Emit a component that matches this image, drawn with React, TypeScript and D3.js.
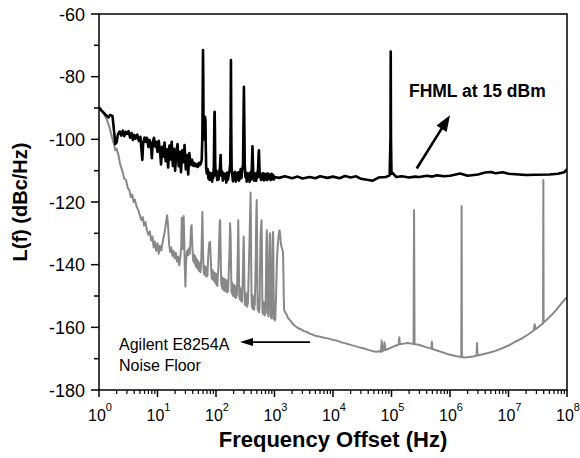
import React from "react";
import * as d3 from "d3";

// ---- Data ----
// FHML at 15 dBm : [offset frequency (Hz), L(f) (dBc/Hz)]
const fhml: [number, number][] = [
  [1, -89.8], [1.1, -90.8], [1.2, -91.5], [1.35, -92.5], [1.45, -93], [1.55, -92.2], [1.7, -92.5],
  [1.8, -97], [1.9, -101.5], [2.0, -101], [2.1, -98.5], [2.25, -97.5], [2.4, -98.8], [2.55, -97.2],
  [2.7, -99], [2.85, -97.6], [3.0, -98.3], [3.2, -97.4], [3.4, -99.5], [3.6, -98], [3.8, -100.2],
  [4.0, -98.6], [4.2, -99.8], [4.5, -98.5], [4.8, -100.5], [5.1, -99.2], [5.3, -103], [5.5, -106.6],
  [5.7, -101], [6.0, -99.4], [6.3, -100.8], [6.6, -99.5], [7.0, -102.5], [7.3, -100.2], [7.7, -101.5],
  [8.0, -106], [8.3, -101], [8.7, -99.5], [9.1, -102.3], [9.5, -100.8], [10, -104], [10.5, -100.5],
  [11, -103.5], [11.5, -108], [12, -102.4], [12.6, -105.5], [13.2, -101], [13.8, -107], [14.5, -103.2],
  [15.2, -109], [16, -102], [16.7, -106.4], [17.5, -100.8], [18.3, -108.5], [19.2, -103], [20, -110],
  [21, -104.2], [22, -101.5], [23, -108.6], [24, -104], [25.2, -110.5], [26.5, -103.5], [27.8, -107.3],
  [29, -101.8], [30.5, -109.6], [32, -105], [33.5, -111.2], [35, -104.4], [37, -108.2], [39, -106.5],
  [41, -108.5], [43, -107.6], [45, -108.6], [47, -108], [49, -108.8], [51, -107.5], [53, -108.2],
  [55, -107.8], [57, -106.5], [58.5, -99], [59.5, -80], [60, -71.5], [60.6, -80], [61.3, -98],
  [62, -100], [63, -96], [64, -93], [65, -92.8], [66, -94], [67, -103], [68, -109.5], [70, -111],
  [72, -109.5], [74, -112.5], [76, -110.5], [78, -113], [80, -110.8], [82, -112.2], [84, -111],
  [86, -113.5], [88, -110.7], [90, -112.3], [92, -108], [94, -92], [95, -91.2], [96, -98], [97, -108],
  [99, -111.5], [102, -110], [105, -113], [108, -110.8], [111, -112.8], [114, -110.5], [117, -109],
  [119, -106], [120, -105], [121, -108], [123, -111.5], [127, -110.2], [131, -113.2], [135, -110.8],
  [140, -112.5], [145, -111], [150, -113.8], [155, -110.6], [160, -112.9], [165, -111.2], [170, -110.2],
  [175, -108], [178, -95], [180, -74.7], [182, -95], [185, -109], [190, -111.5], [195, -113.4],
  [200, -110.8], [206, -112.6], [212, -110.4], [218, -113.5], [225, -111], [232, -112.8], [240, -110.5],
  [248, -113.2], [256, -111], [264, -109.5], [272, -112.4], [280, -110], [290, -108], [297, -90],
  [300, -83.2], [303, -90], [310, -108], [318, -112], [326, -110.6], [335, -113.5], [345, -110.8],
  [355, -112.5], [365, -111], [375, -113.6], [385, -110.6], [395, -112.9], [405, -111.2], [413, -107],
  [420, -102.2], [427, -107], [435, -111.5], [445, -113.2], [455, -110.9], [465, -112.6], [475, -111],
  [485, -113.3], [495, -110.7], [505, -112.4], [515, -111], [525, -109], [537, -104], [543, -103.5],
  [550, -108], [560, -112], [575, -110.9], [590, -113], [605, -111.2], [620, -112.7], [640, -110.8],
  [660, -113.1], [680, -111.1], [700, -112.8], [725, -111], [750, -113], [775, -110.9], [800, -112.6],
  [830, -111.3], [860, -113], [890, -111], [920, -112.7], [950, -111.4], [980, -112.8], [1000, -112],
  [1200, -112.3], [1500, -111.8], [2000, -112.4], [2500, -111.9], [3000, -112.5], [4000, -112],
  [5000, -112.4], [6000, -111.8], [8000, -112.3], [1e4, -111.9], [1.3e4, -112.4], [1.6e4, -111.7],
  [2e4, -112.2], [2.5e4, -111.8], [3e4, -112.6], [3.8e4, -112.9], [4.8e4, -113.2], [6e4, -112.2],
  [8e4, -112], [9.3e4, -111.5], [9.6e4, -100], [9.7e4, -72], [9.8e4, -100], [1e5, -111],
  [1.05e5, -110.8], [1.2e5, -112], [1.5e5, -111.8], [2e5, -112.2], [2.5e5, -111.9], [3e5, -112],
  [4e5, -111.6], [5e5, -111.9], [6e5, -111.5], [8e5, -111.8], [1e6, -111.6], [1.5e6, -110.9],
  [2e6, -111.6], [3e6, -111.2], [4e6, -110.6], [5e6, -110.4], [6e6, -110.8], [8e6, -110.5],
  [1e7, -111], [1.5e7, -111.2], [2e7, -111.4], [3e7, -111.3], [5e7, -111.2], [7e7, -111],
  [9e7, -110.5], [1e8, -109.5],
];

// Agilent E8254A noise floor : [offset frequency (Hz), L(f) (dBc/Hz)]
const agilent: [number, number][] = [
  [1, -89.8], [1.1, -90.8], [1.2, -91.8], [1.35, -93.5], [1.5, -96], [1.65, -99], [1.8, -101.5],
  [1.9, -103.5], [2.0, -103], [2.15, -105], [2.3, -108], [2.5, -110], [2.7, -112.5], [2.9, -113],
  [3.1, -115.5], [3.3, -116.2], [3.5, -118.5], [3.7, -117.6], [3.9, -120], [4.1, -119.2], [4.4, -121.5],
  [4.7, -122.6], [5.0, -124.3], [5.3, -125.8], [5.6, -124.8], [5.9, -127.5], [6.2, -126.4], [6.6, -129],
  [7.0, -130.5], [7.4, -129.4], [7.8, -132.3], [8.2, -131], [8.6, -134.5], [9.0, -132.6], [9.5, -135.6],
  [10, -133.2], [10.5, -136.5], [11, -134], [11.6, -135.5], [12.2, -133], [12.8, -131], [13.4, -129],
  [14, -126.5], [14.6, -124.2], [15.2, -128], [15.8, -133.5], [16.5, -136], [17.2, -134.5], [18, -137.2],
  [18.8, -135.6], [19.6, -138], [20.5, -136.2], [21.5, -139], [22.5, -137.4], [23.5, -140.2],
  [24.5, -137.8], [25.5, -134], [26, -125], [26.5, -131], [27, -135], [27.5, -129], [28, -124.5],
  [28.5, -130], [29.2, -140], [30, -147], [30.8, -139], [31.7, -136], [32.5, -135.4], [33.5, -137],
  [34.5, -134.8], [35.5, -136.5], [36.5, -133], [37.5, -128], [38.3, -127.4], [39.2, -133], [40, -136.4],
  [41, -139], [42, -136.8], [43, -139.6], [44, -137.2], [45, -140.4], [46, -138], [47, -141],
  [48, -138.6], [49, -141.4], [50, -139], [51.5, -142], [53, -139.6], [54.5, -142.4], [56, -138],
  [57.5, -130], [58.5, -123.2], [59.5, -132], [61, -140.6], [62.5, -143], [64, -140.4], [65.5, -143.4],
  [67, -140.8], [68.5, -143.8], [70, -141.2], [71.5, -143.6], [73, -138.7], [75, -135], [77, -133],
  [79, -132.7], [81, -137], [83, -142], [84.5, -144.4], [86, -141.6], [87.5, -144.6], [89, -142],
  [90.5, -145], [92, -142.4], [93.5, -145.2], [95, -142.6], [96.5, -145.6], [98, -143], [99.5, -146],
  [101, -143.2], [102.5, -146.5], [104, -143], [105.5, -146.8], [107, -144], [110, -141], [113, -133],
  [116, -126], [117.5, -125.8], [119, -131], [121, -140], [123, -146.5], [125, -143.8], [127, -147.6],
  [129, -144.2], [131, -147], [133, -144.5], [135, -148.2], [137, -145], [139, -147.8], [141, -144.6],
  [143, -148.5], [146, -145.5], [149, -148.2], [152, -145], [155, -148.9], [158, -145.8], [161, -148.5],
  [164, -144], [167, -140], [170, -136], [174, -126.8], [178, -131], [181, -141], [184, -148.8],
  [187, -145.5], [190, -149.4], [193, -146.2], [196, -150], [199, -146.4], [203, -149.8], [207, -146.6],
  [211, -150.4], [215, -147], [219, -150.6], [223, -147], [227, -149.8], [231, -145], [236, -136],
  [240, -125.8], [244, -135], [248, -146], [251, -150.6], [254, -147.2], [257, -151], [260, -147.6],
  [263, -151.4], [266, -148], [270, -151.6], [274, -148.2], [278, -151.8], [282, -148], [286, -145],
  [292, -138], [297, -131], [302, -138], [307, -148], [311, -152.8], [315, -149.2], [319, -152.6],
  [323, -149], [327, -153], [331, -149.4], [335, -153.2], [339, -149.6], [343, -153.4], [347, -150],
  [351, -152.5], [356, -148], [362, -143], [370, -136], [378, -128], [385, -122], [390, -117],
  [395, -126], [400, -140], [405, -151], [410, -153.4], [415, -149.5], [420, -153.8], [425, -150],
  [430, -154.2], [435, -150.2], [440, -154], [445, -150.6], [450, -154.4], [455, -150.8], [460, -153],
  [465, -149], [470, -146], [475, -140], [480, -135], [485, -128], [490, -123], [496, -119.4],
  [502, -127], [506, -138], [510, -148], [515, -154.2], [520, -150.6], [525, -154.6], [530, -151],
  [535, -155], [540, -151.4], [545, -155.2], [550, -151.6], [555, -154], [560, -149], [567, -140],
  [575, -133], [582, -130], [590, -128], [600, -125.8], [606, -131], [612, -140], [618, -150],
  [624, -155.3], [630, -151.6], [636, -155.5], [642, -151.8], [648, -155.8], [654, -152], [660, -156],
  [666, -152.2], [673, -155.8], [680, -152.4], [686, -156.2], [693, -152.6], [700, -155.5], [707, -151],
  [715, -145], [722, -137], [728, -133], [734, -130.5], [740, -129], [746, -134], [752, -140],
  [758, -150], [765, -155.6], [772, -152.8], [780, -156.4], [787, -153], [795, -156.5], [802, -151],
  [810, -144], [818, -136], [825, -132], [833, -130.5], [840, -130], [847, -135], [855, -145],
  [862, -153], [870, -156.8], [877, -153.2], [885, -157], [892, -153.4], [900, -157.2], [908, -153],
  [915, -146], [922, -138], [930, -133], [938, -130.5], [945, -129.6], [952, -132], [960, -140],
  [967, -148], [975, -155], [982, -157.4], [990, -153.6], [998, -157.6], [1005, -154], [1012, -157.8],
  [1020, -155], [1030, -157.5], [1040, -155], [1060, -151], [1080, -145], [1100, -139], [1130, -134.5],
  [1160, -132], [1190, -130], [1220, -129], [1250, -130.5], [1290, -133.5], [1330, -134.6],
  [1370, -135.2], [1400, -136.5], [1420, -142], [1440, -150], [1460, -154.5], [1500, -155],
  [1600, -155.8], [1700, -157], [1850, -157.8], [2000, -158.6], [2200, -159.4], [2500, -160.2],
  [2800, -160.6], [3200, -161.2], [3600, -161.5], [4000, -162], [4500, -162.3], [5000, -162.7],
  [6000, -163], [7000, -163.3], [8500, -163.6], [1e4, -164], [1.2e4, -164.3], [1.4e4, -164.8],
  [1.7e4, -165.2], [2e4, -165.6], [2.4e4, -166], [2.8e4, -166.4], [3.3e4, -166.7], [4e4, -167.2],
  [4.8e4, -167.6], [5.5e4, -167.8], [6.2e4, -167.6], [6.6e4, -167.8], [6.8e4, -164.2], [7e4, -167.6],
  [7.3e4, -167.4], [7.6e4, -164.8], [7.9e4, -167.3], [8.5e4, -167], [1e5, -166.4], [1.2e5, -165.8],
  [1.33e5, -165.5], [1.36e5, -163.2], [1.39e5, -165.4], [1.6e5, -165.2], [1.9e5, -165], [2.2e5, -165.2],
  [2.38e5, -165.3], [2.43e5, -122.6], [2.48e5, -165.4], [2.8e5, -165.5], [3.3e5, -165.9], [4e5, -166.4],
  [4.8e5, -166.8], [4.9e5, -164.6], [5e5, -166.9], [6e5, -167.4], [7.5e5, -168], [9e5, -168.5],
  [1.1e6, -168.9], [1.3e6, -169.2], [1.5e6, -169.4], [1.56e6, -169.5], [1.58e6, -121.3], [1.6e6, -169.5],
  [1.8e6, -169.6], [2.1e6, -169.5], [2.5e6, -169.3], [2.85e6, -169], [2.9e6, -165], [2.95e6, -169],
  [3.5e6, -168.7], [4.5e6, -168.2], [6e6, -167.5], [8e6, -166.6], [1e7, -165.8], [1.3e7, -164.6],
  [1.7e7, -163.5], [2.2e7, -162.2], [2.7e7, -161], [2.8e7, -159], [2.9e7, -160.6], [3.3e7, -159.8],
  [3.7e7, -159], [3.9e7, -158.8], [3.94e7, -113], [3.98e7, -158.5], [4.5e7, -157.6], [5.5e7, -156],
  [6.5e7, -154.5], [8e7, -152.4], [1e8, -150.3],
];

const yMajorTicks = [-180, -160, -140, -120, -100, -80, -60];
const yMinorTicks = [-170, -150, -130, -110, -90, -70];
const xDecades = [0, 1, 2, 3, 4, 5, 6, 7, 8];

// annotations in data coordinates
const fhmlLabel = { text: "FHML at 15 dBm", f: 1.99e5, v: -86.4 };
const fhmlArrow = { from: [2.7e5, -109.3], to: [1.0e6, -92.3] };
const agilentLabel = { lines: ["Agilent E8254A", "Noise Floor"], f: 2.2, v: -167.1 };
const agilentArrow = { from: [4045, -164.7], to: [257, -164.7] };

const W = 580;
const H = 458;
const M = { top: 14, right: 13, bottom: 68, left: 99 };
const FONT = "'Liberation Sans', Arial, Helvetica, sans-serif";

function Arrow({ x1, y1, x2, y2, head, half, sw }: any) {
  const dx = x2 - x1;
  const dy = y2 - y1;
  const len = Math.sqrt(dx * dx + dy * dy);
  const ux = dx / len;
  const uy = dy / len;
  const bx = x2 - ux * head;
  const by = y2 - uy * head;
  const px = -uy * half;
  const py = ux * half;
  return (
    <g>
      <line x1={x1} y1={y1} x2={bx + ux * 1} y2={by + uy * 1} stroke="#000" strokeWidth={sw} />
      <polygon points={`${x2},${y2} ${bx + px},${by + py} ${bx - px},${by - py}`} fill="#000" />
    </g>
  );
}

export default function App() {
  const x = d3.scaleLog().domain([1, 1e8]).range([M.left, W - M.right]);
  const y = d3.scaleLinear().domain([-180, -60]).range([H - M.bottom, M.top]);
  const line = d3
    .line<[number, number]>()
    .x((d) => x(d[0]))
    .y((d) => y(d[1]));

  const x0 = M.left;
  const x1 = W - M.right;
  const y0 = H - M.bottom;
  const y1 = M.top;

  const minorX = x.ticks().filter((t) => Math.abs(Math.log10(t) - Math.round(Math.log10(t))) > 1e-6);

  return (
    <svg
      width={W}
      height={H}
      viewBox={`0 0 ${W} ${H}`}
      style={{ position: "absolute", left: 0, top: 0, background: "#fff" }}
      fontFamily={FONT}
    >
      <rect x={0} y={0} width={W} height={H} fill="#fff" />
      <defs>
        <clipPath id="plotClip">
          <rect x={x0} y={y1} width={x1 - x0} height={y0 - y1} />
        </clipPath>
      </defs>

      <g clipPath="url(#plotClip)">
        <path d={line(agilent) || ""} fill="none" stroke="#888888" strokeWidth={2} strokeLinejoin="round" />
        <path d={line(fhml) || ""} fill="none" stroke="#000" strokeWidth={2.6} strokeLinejoin="round" />
      </g>

      {/* frame */}
      <rect x={x0} y={y1} width={x1 - x0} height={y0 - y1} fill="none" stroke="#000" strokeWidth={1.5} />

      {/* y ticks */}
      {yMajorTicks.map((t) => (
        <g key={"ym" + t}>
          <line x1={x0 - 8} x2={x0} y1={y(t)} y2={y(t)} stroke="#000" strokeWidth={1.5} />
          <text x={x0 - 14} y={y(t) + 6.5} fontSize={18} textAnchor="end" fill="#000">
            {t}
          </text>
        </g>
      ))}
      {yMinorTicks.map((t) => (
        <line key={"yn" + t} x1={x0 - 5} x2={x0} y1={y(t)} y2={y(t)} stroke="#000" strokeWidth={1.5} />
      ))}

      {/* x ticks */}
      {xDecades.map((e) => {
        const px = x(Math.pow(10, e));
        return (
          <g key={"xm" + e}>
            <line x1={px} x2={px} y1={y0} y2={y0 + 7} stroke="#000" strokeWidth={1.5} />
            <text x={px + 1} y={y0 + 31} fontSize={16} textAnchor="middle" fill="#000">
              <tspan>10</tspan>
              <tspan dy={-10} fontSize={11}>
                {e}
              </tspan>
            </text>
          </g>
        );
      })}
      {minorX.map((t, i) => (
        <line key={"xn" + i} x1={x(t)} x2={x(t)} y1={y0} y2={y0 + 4} stroke="#000" strokeWidth={1.2} />
      ))}

      {/* axis titles */}
      <text x={(x0 + x1) / 2} y={447} fontSize={22} fontWeight="bold" textAnchor="middle" fill="#000">
        Frequency Offset (Hz)
      </text>
      <text
        transform={`translate(27, ${(y0 + y1) / 2}) rotate(-90)`}
        fontSize={20}
        fontWeight="bold"
        textAnchor="middle"
        fill="#000"
      >
        L(f) (dBc/Hz)
      </text>

      {/* annotations */}
      <text x={x(fhmlLabel.f)} y={y(fhmlLabel.v)} fontSize={17.5} fontWeight="bold" fill="#000">
        {fhmlLabel.text}
      </text>
      <Arrow
        x1={x(fhmlArrow.from[0])}
        y1={y(fhmlArrow.from[1])}
        x2={x(fhmlArrow.to[0])}
        y2={y(fhmlArrow.to[1])}
        head={16}
        half={6}
        sw={2.6}
      />
      {agilentLabel.lines.map((l, i) => (
        <text key={l} x={x(agilentLabel.f)} y={y(agilentLabel.v) + i * 21.5} fontSize={16} fill="#000">
          {l}
        </text>
      ))}
      <Arrow
        x1={x(agilentArrow.from[0])}
        y1={y(agilentArrow.from[1])}
        x2={x(agilentArrow.to[0])}
        y2={y(agilentArrow.to[1])}
        head={13}
        half={4}
        sw={1.8}
      />
    </svg>
  );
}
